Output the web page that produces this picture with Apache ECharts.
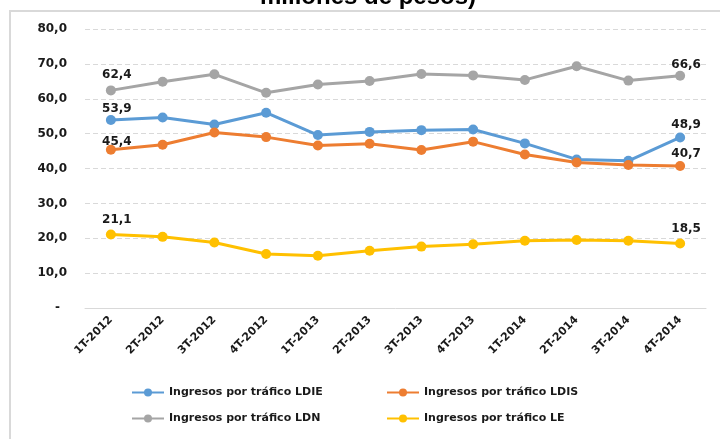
<!DOCTYPE html>
<html>
<head>
<meta charset="utf-8">
<script src="https://cdn.jsdelivr.net/npm/echarts@6/dist/echarts.min.js"></script>
<style>
html,body{margin:0;padding:0;background:#fff;}
#c{width:720px;height:439px;}
</style>
</head>
<body>
<div id="c"></div>
<script>
var categories = ['1T-2012','2T-2012','3T-2012','4T-2012','1T-2013','2T-2013','3T-2013','4T-2013','1T-2014','2T-2014','3T-2014','4T-2014'];
var ldie = [53.9, 54.6, 52.6, 56.0, 49.6, 50.5, 51.0, 51.2, 47.2, 42.6, 42.2, 48.9];
var ldis = [45.4, 46.8, 50.3, 49.0, 46.6, 47.1, 45.3, 47.7, 44.0, 41.7, 41.0, 40.7];
var ldn  = [62.4, 64.9, 67.0, 61.7, 64.1, 65.1, 67.1, 66.7, 65.4, 69.3, 65.2, 66.6];
var le   = [21.1, 20.4, 18.8, 15.5, 15.0, 16.4, 17.6, 18.3, 19.3, 19.5, 19.3, 18.5];
var seriesNames = ['Ingresos por tráfico LDIE','Ingresos por tráfico LDIS','Ingresos por tráfico LDN','Ingresos por tráfico LE'];
var colors = ['#5B9BD5','#ED7D31','#A5A5A5','#FFC000'];
var yTicks = {min: 0, max: 80, interval: 10};
var titleText = 'millones de pesos)';

// label gap above point for first/last labels (style only)
var labelGaps = [[0, 2], [-3, 1], [5, 0], [4, 4]];

var FONT = 'DejaVu Sans';
function fmt(v){ return v.toFixed(1).replace('.', ','); }

function mkSeries(idx, data){
  var name = seriesNames[idx], color = colors[idx];
  var last = data.length - 1;
  return {
    name: name, type: 'line', data: data.map(function(v, i){
      var d = {value: v};
      if (i === 0 || i === last) {
        d.label = {show: true, position: 'top', distance: labelGaps[idx][i === 0 ? 0 : 1], offset: [6, 0],
          formatter: function(p){ return fmt(p.value); },
          color: '#1a1a1a', fontFamily: FONT, fontWeight: 'bold', fontSize: 12};
      }
      return d;
    }),
    symbol: 'circle', symbolSize: 10,
    lineStyle: {width: 3, color: color},
    itemStyle: {color: color},
    label: {show: false},
    emphasis: {disabled: true},
    animation: false
  };
}

var chart = echarts.init(document.getElementById('c'));
function legendAt(i, left, top){
  return {data: [seriesNames[i]], left: left, top: top, itemWidth: 32, itemHeight: 10, padding: 0,
    textStyle: {fontFamily: FONT, fontWeight: 'bold', fontSize: 11, color: '#1a1a1a'},
    selectedMode: false, itemGap: 5};
}
chart.setOption({
  backgroundColor: '#fff',
  animation: false,
  color: colors,
  grid: {left: 85, right: 14, top: 29, bottom: 131, containLabel: false},
  xAxis: {
    type: 'category', data: categories, boundaryGap: true,
    axisLine: {lineStyle: {color: '#d9d9d9', width: 1}},
    axisTick: {show: false},
    axisLabel: {interval: 0, rotate: 45, margin: 10, color: '#1a1a1a',
      fontFamily: FONT, fontWeight: 'bold', fontSize: 11}
  },
  yAxis: {
    type: 'value', min: yTicks.min, max: yTicks.max, interval: yTicks.interval,
    axisLine: {show: false}, axisTick: {show: false},
    splitLine: {lineStyle: {color: '#d9d9d9', type: [5, 3], width: 1}},
    axisLabel: {margin: 18, color: '#1a1a1a', fontFamily: FONT, fontWeight: 'bold', fontSize: 12,
      formatter: function(v){ return v === 0 ? '{d|-}' : fmt(v); },
      rich: {d: {padding: [0, 7, 0, 0], color: '#1a1a1a', fontFamily: FONT, fontWeight: 'bold', fontSize: 12}}}
  },
  legend: [
    legendAt(0, 131, 387), legendAt(1, 386, 387),
    legendAt(2, 131, 413), legendAt(3, 386, 413)
  ],
  graphic: [
    {type: 'polyline', silent: true, shape: {points: [[10, 439], [10, 11], [720, 11]]},
      style: {stroke: '#d9d9d9', lineWidth: 2, fill: null}},
    {type: 'text', silent: true, x: 368, y: 9,
      style: {text: titleText, textAlign: 'center', textVerticalAlign: 'bottom',
        font: 'bold 24px "Liberation Sans"', fill: '#000'}}
  ],
  series: [
    mkSeries(0, ldie),
    mkSeries(1, ldis),
    mkSeries(2, ldn),
    mkSeries(3, le)
  ]
});
</script>
</body>
</html>
